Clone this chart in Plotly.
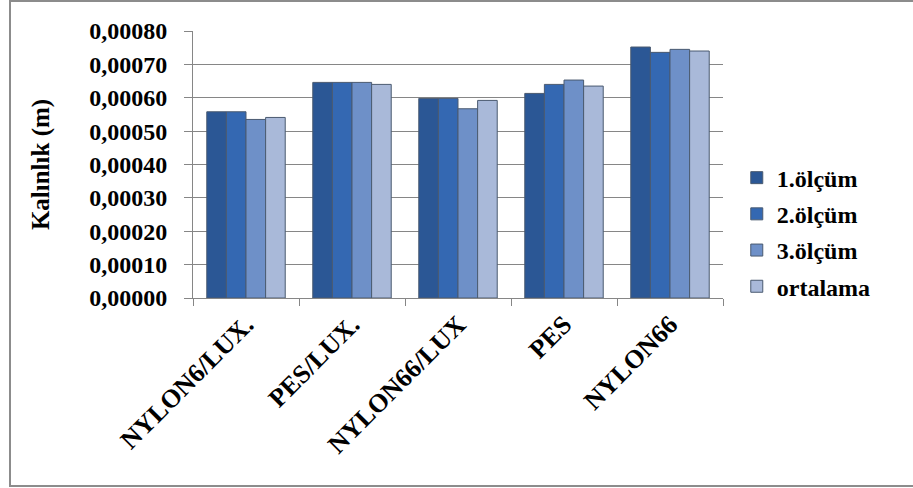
import plotly.graph_objects as go

categories = ["NYLON6/LUX.", "PES/LUX.", "NYLON66/LUX", "PES", "NYLON66"]
olcum1 = [0.000558, 0.000646, 0.000598, 0.000613, 0.000752]
olcum2 = [0.000558, 0.000646, 0.000598, 0.000640, 0.000736]
olcum3 = [0.000535, 0.000646, 0.000567, 0.000653, 0.000745]
ortalama = [0.000541, 0.000640, 0.000592, 0.000635, 0.000740]
series_names = ["1.ölçüm", "2.ölçüm", "3.ölçüm", "ortalama"]
y_ticks = [0, 0.0001, 0.0002, 0.0003, 0.0004, 0.0005, 0.0006, 0.0007, 0.0008]

colors = ["#2B5795", "#3468B2", "#6E90C8", "#A9B9D9"]
font_family = "Liberation Serif, Times New Roman, serif"

def f(size):
    return dict(family=font_family, size=size, color="black", weight="bold")

fig = go.Figure()
for i, (name, vals) in enumerate(zip(series_names, [olcum1, olcum2, olcum3, ortalama])):
    fig.add_trace(go.Bar(
        x=categories, y=vals, name=name, legendgroup=name,
        marker=dict(color=colors[i], line=dict(color="#4A5A70", width=1)),
    ))

fig.update_layout(
    width=913, height=488,
    margin=dict(l=193, r=190, t=31, b=190),
    paper_bgcolor="white", plot_bgcolor="white",
    barmode="group", bargap=0.26, bargroupgap=0,
    separators=", ",
    font=f(24),
    legend=dict(
        x=1.026, y=0.247, xanchor="left", yanchor="middle",
        font=f(24),
        tracegroupgap=2, itemwidth=30,
    ),
    xaxis=dict(
        tickangle=-45, tickfont=f(26),
        showline=True, linecolor="#868686", linewidth=1,
        ticks="outside", tickson="boundaries", ticklen=7, tickcolor="#868686",
        showgrid=False,
    ),
    yaxis=dict(
        range=[0, 0.0008], tickvals=y_ticks, tickformat=".5f",
        tickfont=f(24),
        showline=True, linecolor="#868686", linewidth=1,
        ticks="outside", ticklen=8, tickcolor="#868686",
        showgrid=True, gridcolor="#868686", gridwidth=1,
        ticklabelstandoff=12,
        title=dict(text="Kalınlık (m)", font=f(25), standoff=32),
    ),
    shapes=[dict(type="rect", xref="paper", yref="paper",
                 x0=-183/530, x1=(913 - 193 + 5) / 530, y0=-188/267, y1=1 + 30/267,
                 line=dict(color="#8C8C8C", width=2), fillcolor="rgba(0,0,0,0)", layer="below")],
)

fig.write_html("out.html")
